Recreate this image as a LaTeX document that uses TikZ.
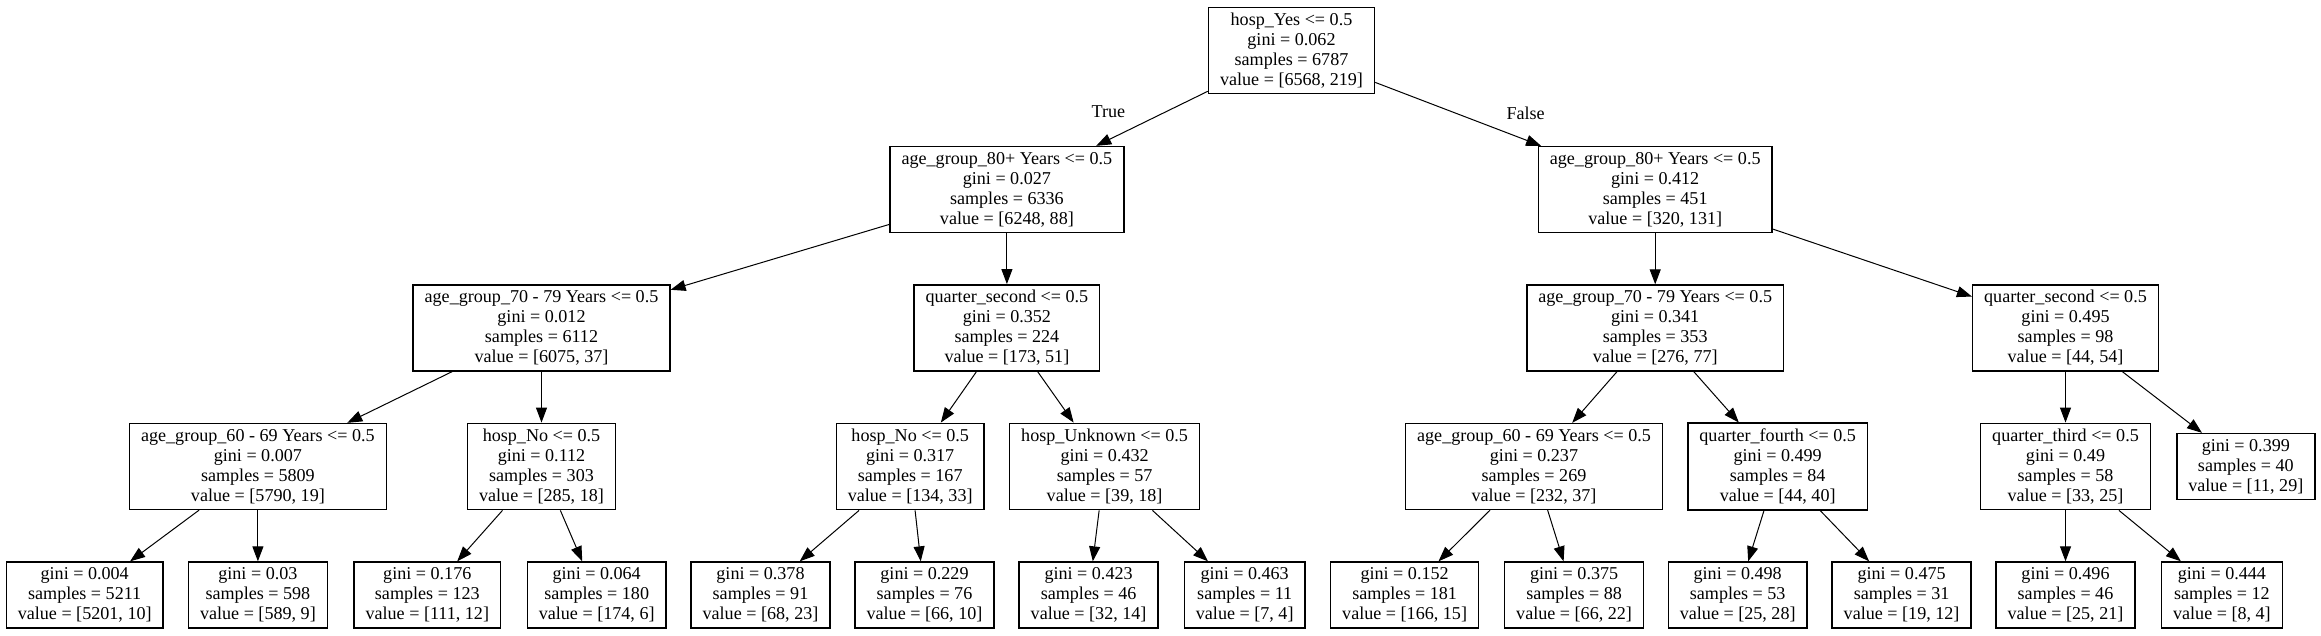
\documentclass[tikz,border=0pt]{standalone}
\usepackage{fontspec}
\setmainfont{Liberation Serif}
\usetikzlibrary{shapes,arrows,arrows.meta,positioning}

\begin{document}
\begin{tikzpicture}[x=1pt, y=1pt, node distance = 138.5pt,
    font=\fontsize{18.1}{20}\selectfont]
  \tikzstyle{split} = [rectangle, draw, line width=1.5pt, align=center,
    inner xsep=11.5pt, inner ysep=5.5pt]
  \tikzstyle{leaf} = [rectangle, draw, line width=1.5pt, align=center,
    inner xsep=11.5pt, inner ysep=5.5pt, node distance=128.5pt]
  \tikzstyle{line} = [draw, line width=1pt, -{Triangle[length=15pt, width=11pt]}]
  \useasboundingbox (0,0) rectangle (2321,-636);

  % Place nodes
  \node [split] (hospyes) at (1291.5,-50.5) {hosp\_Yes <= 0.5\\gini = 0.062\\samples = 6787\\value = [6568, 219]};
  \node [split, below of=hospyes, node distance=139pt, xshift=-284.6pt] (eighty) {age\_group\_80+ Years <= 0.5\\gini = 0.027\\samples = 6336\\value = [6248, 88]};
  \node [split, right of=eighty, node distance=648.3pt] (eightyf) {age\_group\_80+ Years <= 0.5\\gini = 0.412\\samples = 451\\value = [320, 131]};

  \node [split, below of=eighty, xshift=-465.4pt] (seventy) {age\_group\_70 - 79 Years <= 0.5\\gini = 0.012\\samples = 6112\\value = [6075, 37]};
  \node [split, below of=eighty] (qsecond) {quarter\_second <= 0.5\\gini = 0.352\\samples = 224\\value = [173, 51]};
  \node [split, below of=eightyf] (seventyf) {age\_group\_70 - 79 Years <= 0.5\\gini = 0.341\\samples = 353\\value = [276, 77]};
  \node [split, right of=seventyf, node distance=410.3pt] (qsecondf) {quarter\_second <= 0.5\\gini = 0.495\\samples = 98\\value = [44, 54]};

  \node [split, below of=seventy, xshift=-283.6pt] (sixty) {age\_group\_60 - 69 Years <= 0.5\\gini = 0.007\\samples = 5809\\value = [5790, 19]};
  \node [split, below of=seventy] (hospno) {hosp\_No <= 0.5\\gini = 0.112\\samples = 303\\value = [285, 18]};
  \node [split, below of=qsecond, xshift=-96.7pt] (hospnob) {hosp\_No <= 0.5\\gini = 0.317\\samples = 167\\value = [134, 33]};
  \node [split, right of=hospnob, node distance=194.4pt] (unknown) {hosp\_Unknown <= 0.5\\gini = 0.432\\samples = 57\\value = [39, 18]};
  \node [split, below of=seventyf, xshift=-121.2pt] (sixtyf) {age\_group\_60 - 69 Years <= 0.5\\gini = 0.237\\samples = 269\\value = [232, 37]};
  \node [split, right of=sixtyf, node distance=243.7pt] (qfourth) {quarter\_fourth <= 0.5\\gini = 0.499\\samples = 84\\value = [44, 40]};
  \node [split, below of=qsecondf] (qthird) {quarter\_third <= 0.5\\gini = 0.49\\samples = 58\\value = [33, 25]};
  \node [leaf, right of=qthird, node distance=180.3pt] (leafo) {gini = 0.399\\samples = 40\\value = [11, 29]};

  \node [leaf, below of=sixty, xshift=-173.2pt] (leafa) {gini = 0.004\\samples = 5211\\value = [5201, 10]};
  \node [leaf, below of=sixty] (leafb) {gini = 0.03\\samples = 598\\value = [589, 9]};
  \node [leaf, below of=hospno, xshift=-114.2pt] (leafc) {gini = 0.176\\samples = 123\\value = [111, 12]};
  \node [leaf, below of=hospno, xshift=55.2pt] (leafd) {gini = 0.064\\samples = 180\\value = [174, 6]};
  \node [leaf, below of=hospnob, xshift=-149.7pt] (leafe) {gini = 0.378\\samples = 91\\value = [68, 23]};
  \node [leaf, below of=hospnob, xshift=14.3pt] (leaff) {gini = 0.229\\samples = 76\\value = [66, 10]};
  \node [leaf, below of=unknown, xshift=-16pt] (leafg) {gini = 0.423\\samples = 46\\value = [32, 14]};
  \node [leaf, below of=unknown, xshift=140.1pt] (leafh) {gini = 0.463\\samples = 11\\value = [7, 4]};
  \node [leaf, below of=sixtyf, xshift=-129.4pt] (leafi) {gini = 0.152\\samples = 181\\value = [166, 15]};
  \node [leaf, below of=sixtyf, xshift=40.1pt] (leafj) {gini = 0.375\\samples = 88\\value = [66, 22]};
  \node [leaf, below of=qfourth, xshift=-40pt] (leafk) {gini = 0.498\\samples = 53\\value = [25, 28]};
  \node [leaf, below of=qfourth, xshift=123.9pt] (leafl) {gini = 0.475\\samples = 31\\value = [19, 12]};
  \node [leaf, below of=qthird] (leafm) {gini = 0.496\\samples = 46\\value = [25, 21]};
  \node [leaf, below of=qthird, xshift=156.4pt] (leafn) {gini = 0.444\\samples = 12\\value = [8, 4]};

  % Draw edges
  \path [line] (hospyes) -- node [pos=0.374, xshift=-57.6pt] {True} (eighty);
  \path [line] (hospyes) -- node [pos=0.491, xshift=69pt] {False} (eightyf);

  \path [line] (eighty) -- (seventy);
  \path [line] (eighty) -- (qsecond);
  \path [line] (eightyf) -- (seventyf);
  \path [line] (eightyf) -- (qsecondf);

  \path [line] (seventy) -- (sixty);
  \path [line] (seventy) -- (hospno);
  \path [line] (qsecond) -- (hospnob);
  \path [line] (qsecond) -- (unknown);
  \path [line] (seventyf) -- (sixtyf);
  \path [line] (seventyf) -- (qfourth);
  \path [line] (qsecondf) -- (qthird);
  \path [line] (qsecondf) -- (leafo);

  \path [line] (sixty) -- (leafa);
  \path [line] (sixty) -- (leafb);
  \path [line] (hospno) -- (leafc);
  \path [line] (hospno) -- (leafd);
  \path [line] (hospnob) -- (leafe);
  \path [line] (hospnob) -- (leaff);
  \path [line] (unknown) -- (leafg);
  \path [line] (unknown) -- (leafh);
  \path [line] (sixtyf) -- (leafi);
  \path [line] (sixtyf) -- (leafj);
  \path [line] (qfourth) -- (leafk);
  \path [line] (qfourth) -- (leafl);
  \path [line] (qthird) -- (leafm);
  \path [line] (qthird) -- (leafn);
\end{tikzpicture}
\end{document}
